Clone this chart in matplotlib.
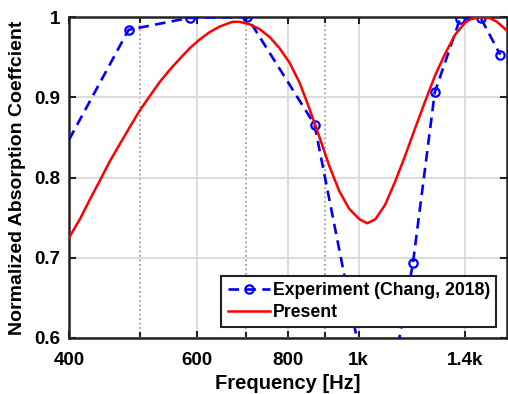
import matplotlib
matplotlib.use("Agg")
import matplotlib.pyplot as plt
from matplotlib.ticker import FixedLocator, FixedFormatter, NullFormatter

plt.rcParams['font.family'] = ['Liberation Sans', 'DejaVu Sans']
plt.rcParams['font.weight'] = 'bold'

# ---- data ----
freq_exp = [400, 483, 586, 703, 870, 1067, 1188, 1273, 1378, 1472, 1566]
alpha_exp = [0.847, 0.984, 0.999, 1.0, 0.866, 0.46, 0.693, 0.906, 0.997, 0.999, 0.953]

freq_present = [400, 414, 427, 441, 455, 470, 485, 500, 517, 533, 550, 568,
                586, 605, 624, 644, 671, 686, 708, 731, 755, 779, 804, 830,
                856, 884, 912, 941, 971, 1003, 1028, 1055, 1088, 1123, 1159,
                1197, 1235, 1274, 1315, 1358, 1401, 1437, 1474, 1512, 1550, 1600]
alpha_present = [0.725, 0.748, 0.772, 0.796, 0.820, 0.842, 0.863, 0.883, 0.902,
                 0.919, 0.934, 0.948, 0.961, 0.972, 0.981, 0.988, 0.994, 0.994,
                 0.991, 0.985, 0.975, 0.961, 0.943, 0.918, 0.886, 0.850, 0.814,
                 0.783, 0.761, 0.748, 0.743, 0.748, 0.766, 0.795, 0.827, 0.862,
                 0.895, 0.927, 0.954, 0.978, 0.993, 0.999, 1.0, 0.999, 0.994,
                 0.983]

major_x = [400, 600, 800, 1000, 1400]
major_x_labels = ["400", "600", "800", "1k", "1.4k"]
minor_x = [500, 700, 900]
y_ticks = [0.6, 0.7, 0.8, 0.9, 1.0]
y_labels = ["0.6", "0.7", "0.8", "0.9", "1"]

fig = plt.figure(figsize=(5.08, 3.94), dpi=100)
ax = fig.add_axes([69 / 508, 56 / 394, 438 / 508, 321 / 394])

ax.plot(freq_exp, alpha_exp, color="blue", lw=1.9, dashes=[4, 2.4],
        marker="o", ms=6, mfc="none", mew=1.6,
        markevery=list(range(1, len(freq_exp))),
        label="Experiment (Chang, 2018)", zorder=3)
ax.plot(freq_present, alpha_present, color="red", lw=1.8,
        label="Present", zorder=4)

ax.set_xscale("log")
ax.set_xlim(400, 1600)
ax.set_ylim(0.6, 1.0)

ax.xaxis.set_major_locator(FixedLocator(major_x))
ax.xaxis.set_major_formatter(FixedFormatter(major_x_labels))
ax.xaxis.set_minor_locator(FixedLocator(minor_x))
ax.xaxis.set_minor_formatter(NullFormatter())
ax.set_yticks(y_ticks)
ax.set_yticklabels(y_labels)

ax.grid(True, which="major", color="#d9d9d9", lw=1.3, zorder=0)
ax.grid(True, which="minor", axis="x", color="#a0a0a0", lw=1.3,
        linestyle=(0, (1, 1.5)), zorder=0)
ax.set_axisbelow(True)

ax.tick_params(which="both", direction="in", top=True, right=True,
               width=1.5, color="#222222", labelsize=13.5)
ax.tick_params(axis="x", which="both", pad=10)
ax.tick_params(axis="y", which="both", pad=6)
ax.tick_params(which="major", length=5)
ax.tick_params(which="minor", length=4)
for sp in ax.spines.values():
    sp.set_linewidth(1.8)
    sp.set_color("#222222")

ax.set_xlabel("Frequency [Hz]", fontsize=14.5, fontweight="bold", labelpad=4)
ax.set_ylabel("Normalized Absorption Coeffcient", fontsize=14,
              fontweight="bold", labelpad=6)

leg = ax.legend(loc="lower right", fontsize=12.7, frameon=True, fancybox=False,
                edgecolor="#222222", framealpha=1, borderpad=0.35,
                handlelength=2.4, handletextpad=0.15, labelspacing=0.25,
                borderaxespad=0.62)
leg.get_frame().set_linewidth(1.5)
for t in leg.get_texts():
    t.set_fontweight("bold")

fig.savefig("out.png", dpi=100)
